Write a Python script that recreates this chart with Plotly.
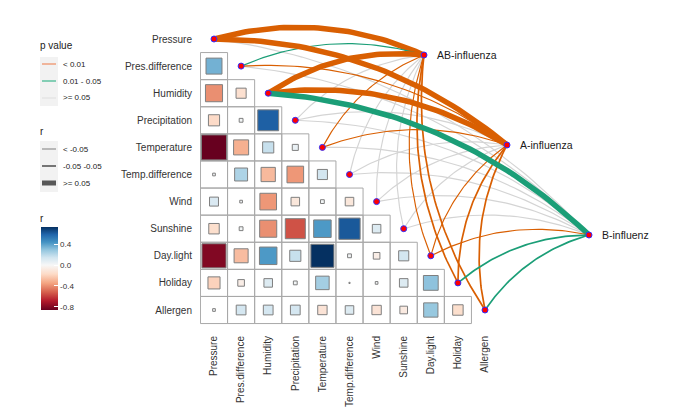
import numpy as np
import plotly.graph_objects as go

# ---------------- data ----------------
variables = ["Pressure", "Pres.difference", "Humidity", "Precipitation", "Temperature",
             "Temp.difference", "Wind", "Sunshine", "Day.light", "Holiday", "Allergen"]

# lower-triangle correlations (row variable vs. earlier column variables)
r_pres_difference = [0.35]
r_humidity = [-0.40, -0.14]
r_precipitation = [-0.17, 0.02, 0.60]
r_temperature = [-0.86, -0.31, 0.17, 0.05]
r_temp_difference = [0.01, 0.23, -0.28, -0.38, 0.14]
r_wind = [0.11, 0.01, -0.38, -0.10, 0.02, -0.10]
r_sunshine = [-0.15, 0.02, -0.40, -0.55, 0.42, 0.62, 0.10]
r_day_light = [-0.80, -0.27, 0.42, 0.17, 0.73, 0.02, -0.06, 0.14]
r_holiday = [-0.20, -0.06, 0.10, 0.02, 0.25, 0.002, 0.01, 0.10, 0.30]
r_allergen = [0.01, 0.13, 0.13, 0.13, -0.12, 0.10, -0.12, -0.08, 0.28, -0.15]

corr_rows = [[], r_pres_difference, r_humidity, r_precipitation, r_temperature,
             r_temp_difference, r_wind, r_sunshine, r_day_light, r_holiday, r_allergen]

influenza = ["AB-influenza", "A-influenza", "B-influenz"]

# p-value class of each influenza -> variable link
p_ab = ["< 0.01", "0.01 - 0.05", "< 0.01", ">= 0.05", "< 0.01", ">= 0.05",
        ">= 0.05", ">= 0.05", "< 0.01", "< 0.01", "< 0.01"]
p_a = ["< 0.01", "< 0.01", "< 0.01", ">= 0.05", "< 0.01", ">= 0.05",
       ">= 0.05", ">= 0.05", "< 0.01", "< 0.01", "< 0.01"]
p_b = [">= 0.05", ">= 0.05", "0.01 - 0.05", ">= 0.05", ">= 0.05", ">= 0.05",
       ">= 0.05", ">= 0.05", "< 0.01", "0.01 - 0.05", "0.01 - 0.05"]

# r class of each link
r_ab = [">= 0.05", "< -0.05", ">= 0.05", "< -0.05", "< -0.05", "< -0.05",
        "< -0.05", "< -0.05", "< -0.05", "-0.05 -0.05", "-0.05 -0.05"]
r_a = [">= 0.05", "< -0.05", ">= 0.05", "< -0.05", "< -0.05", "< -0.05",
       "< -0.05", "< -0.05", "< -0.05", "-0.05 -0.05", "-0.05 -0.05"]
r_b = ["< -0.05", "< -0.05", ">= 0.05", "< -0.05", "< -0.05", "< -0.05",
       "< -0.05", "< -0.05", "< -0.05", "-0.05 -0.05", "-0.05 -0.05"]

link_p = [p_ab, p_a, p_b]
link_r = [r_ab, r_a, r_b]

p_labels = ["< 0.01", "0.01 - 0.05", ">= 0.05"]
r_labels = ["< -0.05", "-0.05 -0.05", ">= 0.05"]
cbar_ticks = [0.4, 0.0, -0.4, -0.8]
cbar_ticktext = ["0.4", "0.0", "-0.4", "-0.8"]

# ---------------- layout / styles ----------------
OFF = 8                      # page body margin offset
W, H = 685 - OFF, 411 - OFF
PL, PR, PT, PB = 200 - OFF, 665 - OFF, 18 - OFF, 326 - OFF
UNIT = 27.1
X0_PX, Y0_PX = 214 - OFF, 39 - OFF


def node_pos(px, py):
    return ((px - OFF - X0_PX) / UNIT, (py - OFF - Y0_PX) / UNIT)


node_xy = [node_pos(424, 55), node_pos(507, 145), node_pos(589, 235)]

p_color = {"< 0.01": "#D95F02", "0.01 - 0.05": "#1B9E77", ">= 0.05": "#D4D4D4"}
r_width = {"< -0.05": 1.15, "-0.05 -0.05": 1.7, ">= 0.05": 5.5}

cmin, cmax = -0.86, 0.73
neg = ["#67001F", "#B2182B", "#D6604D", "#F4A582", "#FDDBC7", "#F7F7F7"]
pos = ["#F7F7F7", "#D1E5F0", "#92C5DE", "#4393C3", "#2166AC", "#053061"]
zpos = (0 - cmin) / (cmax - cmin)
colorscale = [[zpos * i / 5, c] for i, c in enumerate(neg)] + \
             [[zpos + (1 - zpos) * i / 5, c] for i, c in enumerate(pos)][1:]

xr = [(PL - X0_PX) / UNIT, (PR - X0_PX) / UNIT]
yr = [(PB - Y0_PX) / UNIT, (PT - Y0_PX) / UNIT]


def px_x(px):
    return (px - OFF - PL) / (PR - PL)


def px_y(py):
    return (PB - (py - OFF)) / (PB - PT)


fig = go.Figure()
shapes = []
annotations = []

# grid cells of the lower triangle
for i in range(len(variables)):
    for j in range(i):
        shapes.append(dict(type="rect", xref="x", yref="y", x0=j - 0.5, x1=j + 0.5,
                           y0=i - 0.5, y1=i + 0.5, line=dict(color="#A8A8A8", width=1),
                           fillcolor="rgba(0,0,0,0)", layer="below"))

# squares
sx, sy, sr = [], [], []
for i, row in enumerate(corr_rows):
    for j, v in enumerate(row):
        sx.append(j)
        sy.append(i)
        sr.append(v)
sr = np.array(sr)
fig.add_trace(go.Scatter(
    x=sx, y=sy, mode="markers", hoverinfo="skip", showlegend=False,
    marker=dict(symbol="square", size=27 * np.sqrt(np.abs(sr)), color=sr, opacity=1,
                colorscale=colorscale, cmin=cmin, cmax=cmax,
                line=dict(color="#7F7F7F", width=1),
                showscale=True,
                colorbar=dict(x=px_x(41), xanchor="left", y=px_y(268.5), yanchor="middle",
                              thickness=17, thicknessmode="pixels", len=83, lenmode="pixels",
                              xpad=0, ypad=0, outlinewidth=0, tickvals=cbar_ticks,
                              ticktext=cbar_ticktext, ticks="inside", ticklen=4,
                              tickcolor="white", tickwidth=1,
                              tickfont=dict(size=8, color="#333333", family="Liberation Sans")))))

# links
def curve(p0, p2, k=0.18, n=50):
    (x0, y0), (x2, y2) = p0, p2
    dx, dy = x2 - x0, y2 - y0
    cx, cy = (x0 + x2) / 2 + k * dy, (y0 + y2) / 2 - k * dx
    t = np.linspace(0, 1, n)
    bx = (1 - t) ** 2 * x0 + 2 * (1 - t) * t * cx + t ** 2 * x2
    by = (1 - t) ** 2 * y0 + 2 * (1 - t) * t * cy + t ** 2 * y2
    return bx, by


for gray_pass in (True, False):
    for n, node in enumerate(influenza):
        for i, var in enumerate(variables):
            pc = link_p[n][i]
            if (pc == ">= 0.05") != gray_pass:
                continue
            bx, by = curve((i, i), node_xy[n])
            fig.add_trace(go.Scatter(x=bx, y=by, mode="lines", hoverinfo="skip",
                                     showlegend=False,
                                     line=dict(color=p_color[pc], width=r_width[link_r[n][i]])))

# diagonal points
fig.add_trace(go.Scatter(x=list(range(len(variables))), y=list(range(len(variables))),
                         mode="markers", hoverinfo="skip", showlegend=False,
                         marker=dict(size=6, color="#FF0000", line=dict(color="#3030FF", width=1))))
# influenza nodes
fig.add_trace(go.Scatter(x=[p[0] for p in node_xy], y=[p[1] for p in node_xy],
                         mode="markers", hoverinfo="skip", showlegend=False,
                         marker=dict(size=6, color="#FF0000", line=dict(color="#3030FF", width=1))))
for n, node in enumerate(influenza):
    annotations.append(dict(x=node_xy[n][0], y=node_xy[n][1], xref="x", yref="y", text=node,
                            showarrow=False, xanchor="left", yanchor="middle", xshift=11,
                            font=dict(size=10.5, color="#1A1A1A", family="Liberation Sans")))

# ---------------- custom legends ----------------
def legend_text(px, py, text, size):
    annotations.append(dict(x=px_x(px), y=px_y(py), xref="paper", yref="paper", text=text,
                            showarrow=False, xanchor="left", yanchor="middle",
                            font=dict(size=size, color="#222222", family="Liberation Sans")))


legend_text(38, 45, "p value", 10)
shapes.append(dict(type="rect", xref="paper", yref="paper", x0=px_x(40), x1=px_x(58),
                   y0=px_y(57), y1=px_y(106), fillcolor="#F2F2F2", line=dict(width=0)))
p_key_colors = ["#EFA07E", "#5FC2A0", "#E4E4E4"]
for k, (lab, yy) in enumerate(zip(p_labels, [64, 81, 98])):
    shapes.append(dict(type="line", xref="paper", yref="paper", x0=px_x(42), x1=px_x(56),
                       y0=px_y(yy), y1=px_y(yy), line=dict(color=p_key_colors[k], width=1.5)))
    legend_text(61, yy, lab, 8)

legend_text(38, 132, "r", 10)
shapes.append(dict(type="rect", xref="paper", yref="paper", x0=px_x(40), x1=px_x(58),
                   y0=px_y(141), y1=px_y(192), fillcolor="#F2F2F2", line=dict(width=0)))
r_key_style = [("#A0A0A0", 1.4), ("#6E6E6E", 1.9), ("#585858", 5)]
for k, (lab, yy) in enumerate(zip(r_labels, [149, 166, 183])):
    c, w = r_key_style[k]
    shapes.append(dict(type="line", xref="paper", yref="paper", x0=px_x(42), x1=px_x(56),
                       y0=px_y(yy), y1=px_y(yy), line=dict(color=c, width=w)))
    legend_text(61, yy, lab, 8)

legend_text(38, 218, "r", 10)

axis_common = dict(showgrid=False, zeroline=False, showline=False, ticks="outside",
                   ticklen=5, tickcolor="rgba(0,0,0,0)", automargin=False,
                   tickfont=dict(size=10, color="#333333", family="Liberation Sans"))

fig.update_layout(
    width=W, height=H, autosize=False,
    margin=dict(l=PL, r=W - PR, t=PT, b=H - PB, pad=0, autoexpand=False),
    paper_bgcolor="white", plot_bgcolor="white",
    xaxis=dict(range=xr, tickvals=list(range(len(variables))), ticktext=variables,
               tickangle=-90, **axis_common),
    yaxis=dict(range=yr, tickvals=list(range(len(variables))), ticktext=variables,
               **axis_common),
    shapes=shapes, annotations=annotations,
    font=dict(family="Liberation Sans"),
)

fig.write_html("out.html")
